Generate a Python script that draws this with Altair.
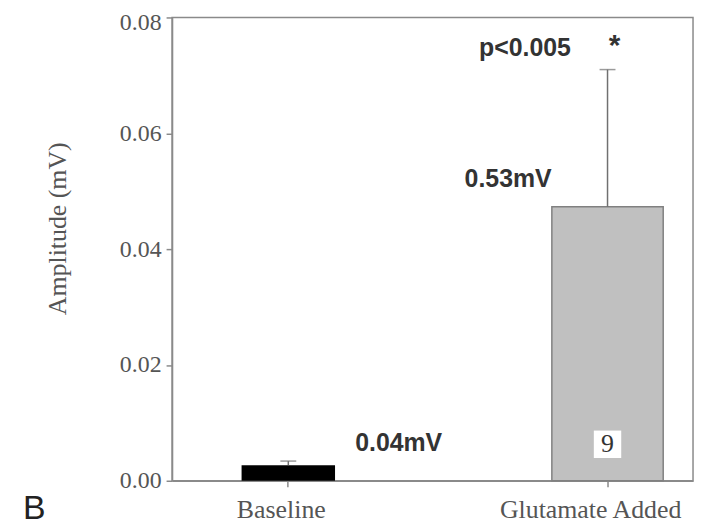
import altair as alt
import pandas as pd

categories = ["Baseline", "Glutamate Added"]
means = [0.0027, 0.0473]
upper_err = [0.0007, 0.0237]
value_labels = ["0.04mV", "0.53mV"]
y_ticks = [0.0, 0.02, 0.04, 0.06, 0.08]
p_text = "p<0.005"
star_text = "*"
n_text = "9"
panel_letter = "B"

df = pd.DataFrame({"cat": categories, "mean": means, "err": upper_err, "label": value_labels})
df["upper"] = df["mean"] + df["err"]

serif = "Liberation Serif"
sans = "Liberation Sans"
gray = "#8a8a8a"
txt = "#333333"

PLOT_H = 466

x_scale = alt.Scale(domain=categories, paddingInner=0.5, paddingOuter=0.066, align=0.865)
y_scale = alt.Scale(domain=[0, 0.08], nice=False)

x_enc = alt.X(
    "cat:N", scale=x_scale, sort=categories, title=None,
    axis=alt.Axis(
        labelAngle=0, labelFont=serif, labelFontSize=26, labelColor="#555555",
        tickColor=gray, domainColor=gray, tickSize=6, labelPadding=10, labelLimit=400,
        domainWidth=1.5, tickWidth=1.5,
        labelOffset={"condition": {"test": "datum.value == 'Glutamate Added'", "value": -17}, "value": -7},
    ),
)
y_enc = alt.Y(
    "mean:Q", scale=y_scale, title="Amplitude (mV)",
    axis=alt.Axis(
        values=y_ticks, format=".2f", grid=False,
        labelFont=serif, labelFontSize=24, labelColor="#555555",
        tickColor=gray, domainColor=gray, tickSize=6, labelPadding=5,
        domainWidth=1.5, tickWidth=1.5,
        labelOffset={"condition": {"test": "datum.value >= 0.079", "value": 5}, "value": 0},
        titleFont=serif, titleFontSize=26, titleFontWeight="normal", titleColor="#555555",
        titleAngle=270, titleX=-115, titleY=212, titleAlign="center", titleBaseline="middle",
    ),
)

base = alt.Chart(df)

bar_base = base.transform_filter(alt.datum.cat == "Baseline").mark_bar(
    width=94, color="#000000"
).encode(x=x_enc, y=y_enc)
bar_glu = base.transform_filter(alt.datum.cat == "Glutamate Added").mark_bar(
    width=112, fill="#c0c0c0", stroke="#808080", strokeWidth=1.5
).encode(x=x_enc, y=y_enc)

err_rule = base.mark_rule(color="#707070", strokeWidth=1.5).encode(
    x=x_enc, y="mean:Q", y2="upper:Q"
)
err_cap = base.mark_tick(color="#707070", thickness=1.5, size=16).encode(
    x=x_enc, y="upper:Q"
)

lab_base = base.transform_filter(alt.datum.cat == "Baseline").mark_text(
    font=sans, fontSize=25, fontWeight="bold", color=txt, dx=111, dy=-22, baseline="middle"
).encode(x=x_enc, y="mean:Q", text="label:N")
lab_glu = base.transform_filter(alt.datum.cat == "Glutamate Added").mark_text(
    font=sans, fontSize=25, fontWeight="bold", color=txt, dx=-100, dy=-28, baseline="middle"
).encode(x=x_enc, y="mean:Q", text="label:N")
p_lab = base.transform_filter(alt.datum.cat == "Glutamate Added").mark_text(
    font=sans, fontSize=25, fontWeight="bold", color=txt, dx=-83, dy=-22, baseline="middle"
).encode(x=x_enc, y="upper:Q", text=alt.value(p_text))
star = base.transform_filter(alt.datum.cat == "Glutamate Added").mark_text(
    font=sans, fontSize=30, fontWeight="bold", color=txt, dx=7, dy=-15, baseline="alphabetic"
).encode(x=x_enc, y="upper:Q", text=alt.value(star_text))

n_box = base.transform_filter(alt.datum.cat == "Glutamate Added").mark_square(
    size=760, color="#ffffff", opacity=1, strokeWidth=0
).encode(x=x_enc, y=alt.datum(0.0063))
n_lab = base.transform_filter(alt.datum.cat == "Glutamate Added").mark_text(
    font=serif, fontSize=26, color=txt, baseline="middle"
).encode(x=x_enc, y=alt.datum(0.0063), text=alt.value(n_text))

letter = base.transform_filter(alt.datum.cat == "Baseline").mark_text(
    font=sans, fontSize=34, color="#222222", align="left", baseline="alphabetic"
).encode(x=alt.value(-150), y=alt.value(PLOT_H + 38), text=alt.value(panel_letter))

chart = alt.layer(
    bar_base, bar_glu, err_rule, err_cap, lab_base, lab_glu, p_lab, star, n_box, n_lab, letter
).properties(
    width=524, height=PLOT_H,
    autosize=alt.AutoSizeParams(type="none"),
    padding={"left": 165, "top": 8, "right": 4, "bottom": 46},
).configure_view(
    stroke=gray, strokeWidth=1.5
)

chart.save("out.html", embed_options={"renderer": "svg", "actions": False})
